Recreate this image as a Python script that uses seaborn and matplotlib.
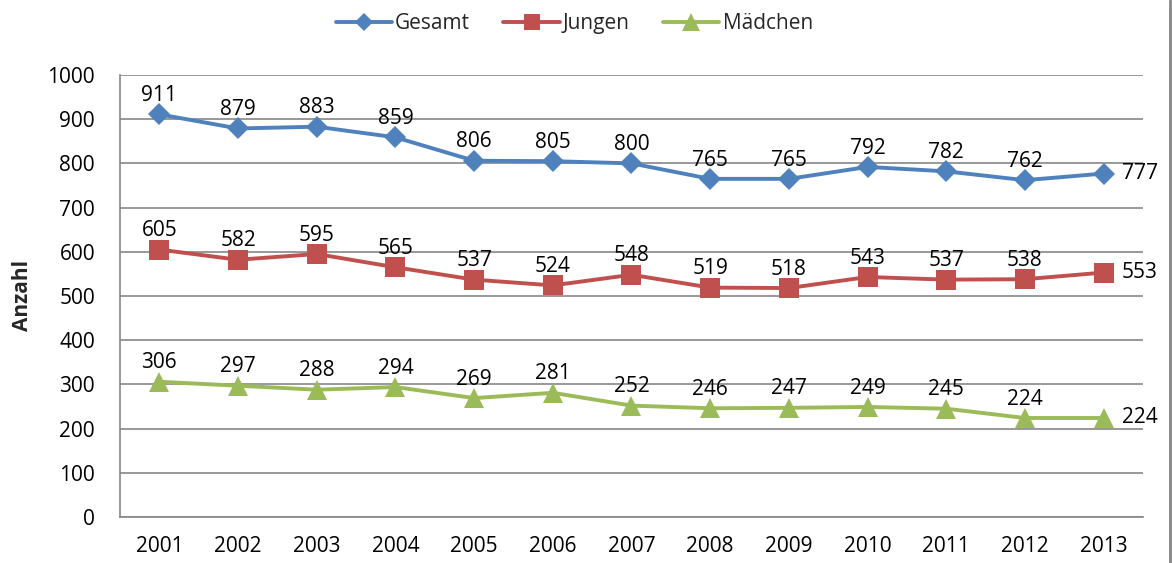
import matplotlib
matplotlib.use("Agg")
import matplotlib.pyplot as plt
import seaborn as sns
import pandas as pd
from matplotlib.lines import Line2D

years = [2001, 2002, 2003, 2004, 2005, 2006, 2007, 2008, 2009, 2010, 2011, 2012, 2013]
gesamt = [911, 879, 883, 859, 806, 805, 800, 765, 765, 792, 782, 762, 777]
jungen = [605, 582, 595, 565, 537, 524, 548, 519, 518, 543, 537, 538, 553]
maedchen = [306, 297, 288, 294, 269, 281, 252, 246, 247, 249, 245, 224, 224]
series_names = ["Gesamt", "Jungen", "Mädchen"]
y_ticks = [0, 100, 200, 300, 400, 500, 600, 700, 800, 900, 1000]

colors = {"Gesamt": "#4F81BD", "Jungen": "#C0504D", "Mädchen": "#9BBB59"}
markers = {"Gesamt": "D", "Jungen": "s", "Mädchen": "^"}
msizes = {"Gesamt": 11, "Jungen": 14, "Mädchen": 15}

sns.set_theme(style="white")
plt.rcParams['font.family'] = ['Open Sans', 'DejaVu Sans']

df = pd.DataFrame({
    "Jahr": years * 3,
    "Wert": gesamt + jungen + maedchen,
    "Serie": [series_names[0]] * 13 + [series_names[1]] * 13 + [series_names[2]] * 13,
})

fig = plt.figure(figsize=(11.72, 5.63), dpi=100)
ax = fig.add_axes([0.1024, 0.0817, 0.8728, 0.7851])

FS = 15
for name, vals in zip(series_names, [gesamt, jungen, maedchen]):
    sub = df[df["Serie"] == name]
    sns.lineplot(data=sub, x="Jahr", y="Wert", ax=ax, color=colors[name],
                 marker=markers[name], markersize=msizes[name], linewidth=2.8,
                 markeredgewidth=0, legend=False, zorder=3)
    for i, (x, v) in enumerate(zip(years, vals)):
        if i == len(years) - 1:
            ax.annotate(str(v), (x, v), xytext=(13, 0), textcoords="offset points",
                        ha="left", va="center", fontsize=FS, color="black")
        else:
            ax.annotate(str(v), (x, v), xytext=(0, 6), textcoords="offset points",
                        ha="center", va="bottom", fontsize=FS, color="black")

ax.set_xlim(2000.5, 2013.5)
ax.set_ylim(0, 1000)
ax.set_yticks(y_ticks)
ax.set_xticks(years)
ax.set_xticklabels([str(y) for y in years])
ax.tick_params(axis="both", length=0, labelsize=FS, colors="black")
ax.tick_params(axis="y", pad=18)
ax.tick_params(axis="x", pad=14)
ax.yaxis.grid(True, color="#868686", linewidth=1.2)
ax.set_axisbelow(True)
for s in ["top", "right"]:
    ax.spines[s].set_visible(False)
for s in ["left", "bottom"]:
    ax.spines[s].set_color("#868686")
    ax.spines[s].set_linewidth(1.2)
ax.set_xlabel("")
ax.set_ylabel("Anzahl", fontsize=FS, fontweight="bold", labelpad=10)

handles = [Line2D([0], [0], color=colors[n], marker=markers[n], markersize=msizes[n] * 0.85,
                  markeredgewidth=0, linewidth=2.8) for n in series_names]
fig.legend(handles, series_names, loc="center", bbox_to_anchor=(0.49, 0.958), ncol=3,
           frameon=False, fontsize=FS, handlelength=2.7, handletextpad=0.15, columnspacing=1.6)

fig.add_artist(Line2D([0.9985, 0.9985], [0, 1], transform=fig.transFigure, color="#868686", linewidth=2))

fig.savefig("out.png", dpi=100)
